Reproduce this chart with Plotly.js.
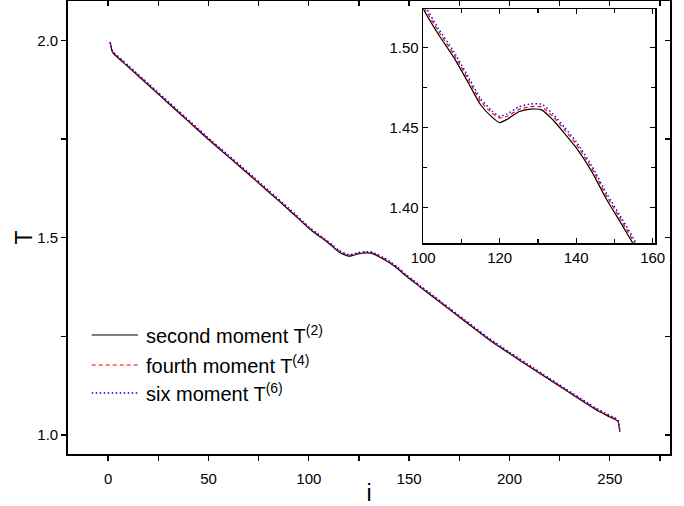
<!DOCTYPE html>
<html>
<head>
<meta charset="utf-8">
<script src="https://cdn.plot.ly/plotly-3.0.1.min.js"></script>
<style>html,body{margin:0;padding:0;background:#fff;}#chart{width:684px;height:506px;}</style>
</head>
<body>
<div id="chart"></div>
<script>
// step index i
const iVals = [1,2,3,10,20,30,40,50,60,70,80,90,100,104,108,112,115,118,120,122,125,128,131,134,137,140,144,148,152,156,160,170,180,190,200,210,220,230,240,245,250,254,255];
// second moment T(2)
const T2 = [1.995,1.972,1.965,1.933,1.887,1.841,1.795,1.749,1.705,1.661,1.616,1.571,1.524,1.5080,1.4937,1.4770,1.4642,1.4565,1.4531,1.4552,1.4598,1.4614,1.4610,1.4545,1.4462,1.4374,1.4228,1.4050,1.3893,1.3730,1.3575,1.3185,1.2795,1.2410,1.2065,1.1730,1.1400,1.1070,1.0745,1.0590,1.0460,1.0350,1.008];
// fourth moment T(4)
const T4 = [1.995,1.974,1.967,1.935,1.889,1.843,1.797,1.751,1.707,1.663,1.618,1.573,1.526,1.5100,1.4957,1.4790,1.4664,1.4590,1.4560,1.4570,1.4612,1.4630,1.4628,1.4567,1.4484,1.4396,1.4249,1.4071,1.3913,1.3750,1.3595,1.3205,1.2815,1.2430,1.2085,1.1750,1.1420,1.1090,1.0765,1.0610,1.0480,1.0370,1.008];
// six moment T(6)
const T6 = [1.996,1.976,1.969,1.937,1.891,1.845,1.799,1.753,1.709,1.665,1.620,1.575,1.528,1.5117,1.4974,1.4807,1.4680,1.4604,1.4569,1.4585,1.4628,1.4647,1.4645,1.4583,1.4500,1.4412,1.4265,1.4087,1.3930,1.3767,1.3612,1.3222,1.2832,1.2447,1.2102,1.1767,1.1437,1.1107,1.0782,1.0627,1.0497,1.0387,1.009];

const names = ['second moment T<sup>(2)</sup>','fourth moment T<sup>(4)</sup>','six moment T<sup>(6)</sup>'];
const mainTicksX = [0,50,100,150,200,250];
const mainTicksY = [1.0,1.5,2.0];
const insetTicksX = [100,120,140,160];
const insetTicksY = [1.40,1.45,1.50];

const FONT = 'Liberation Sans, Arial, sans-serif';
const styles = [
  {color:'#000000', dash:'solid', width:1.2},
  {color:'#ff0000', dash:'4px,3px', width:1.2},
  {color:'#0000ff', dash:'1.5px,2.5px', width:1.4}
];
const series = [T2, T4, T6];

const traces = [];
series.forEach((ys, k) => {
  traces.push({x:iVals, y:ys, type:'scatter', mode:'lines', name:names[k],
    line:{color:styles[k].color, dash:styles[k].dash, width:styles[k].width, shape:'spline', smoothing:0.5},
    xaxis:'x', yaxis:'y', showlegend:false});
});
series.forEach((ys, k) => {
  traces.push({x:iVals, y:ys, type:'scatter', mode:'lines', name:names[k],
    line:{color:styles[k].color, dash:styles[k].dash, width:styles[k].width, shape:'spline', smoothing:0.6},
    xaxis:'x2', yaxis:'y2', showlegend:false});
});
// helper trace for mirrored frame axes (top/right)
traces.push({x:[null], y:[null], xaxis:'x3', yaxis:'y3', showlegend:false, hoverinfo:'skip', mode:'lines'});

// legend drawn as paper-referenced samples + labels
const legRowsY = [0.2627, 0.1965, 0.1347];
const shapes = [];
const annotations = [];
names.forEach((nm, k) => {
  shapes.push({type:'line', xref:'paper', yref:'paper', x0:0.0394, x1:0.1163, y0:legRowsY[k], y1:legRowsY[k],
    line:{color:styles[k].color, dash:styles[k].dash, width:styles[k].width}});
  annotations.push({xref:'paper', yref:'paper', x:0.126, y:legRowsY[k], xanchor:'left', yanchor:'middle',
    text:nm, showarrow:false, font:{family:FONT, size:20, color:'#000'}});
});
// y-axis title
annotations.push({xref:'paper', yref:'paper', x:-0.073, y:0.478, xanchor:'center', yanchor:'middle',
  text:'T', textangle:-90, showarrow:false, font:{family:FONT, size:23, color:'#000'}});

const tk = {tickcolor:'#000', tickwidth:1.3};
const layout = {
  width:684, height:506,
  margin:{l:68, r:14, t:1, b:52},
  paper_bgcolor:'#ffffff', plot_bgcolor:'#ffffff',
  font:{family:FONT, color:'#000', size:15},
  showlegend:false,
  shapes:shapes, annotations:annotations,
  xaxis:{domain:[0,1], range:[-20,280], tickvals:mainTicksX, ticks:'outside', ticklen:5, ...tk,
    showline:true, linewidth:1.8, linecolor:'#000', mirror:true, showgrid:false, zeroline:false,
    minor:{dtick:25, tick0:0, ticks:'outside', ticklen:5, ...tk, showgrid:false},
    ticklabelstandoff:5,
    tickfont:{size:15}, title:{text:'i', font:{size:23}, standoff:4}, anchor:'y'},
  yaxis:{domain:[0,1], range:[0.952,2.1], tickvals:mainTicksY, tickformat:'.1f', ticks:'outside', ticklen:5, ...tk,
    showline:true, linewidth:1.8, linecolor:'#000', mirror:true, showgrid:false, zeroline:false,
    minor:{dtick:0.25, tick0:0, ticks:'outside', ticklen:5, ...tk, showgrid:false},
    tickfont:{size:15}, anchor:'x'},
  xaxis3:{overlaying:'x', side:'top', anchor:'y3', range:[-20,280], tickvals:mainTicksX, ticks:'inside', ticklen:5, ...tk,
    showticklabels:false, showline:false, showgrid:false, zeroline:false,
    minor:{dtick:25, tick0:0, ticks:'inside', ticklen:5, ...tk, showgrid:false}},
  yaxis3:{overlaying:'y', side:'right', anchor:'x3', range:[0.952,2.1], tickvals:mainTicksY, ticks:'inside', ticklen:5, ...tk,
    showticklabels:false, showline:false, showgrid:false, zeroline:false,
    minor:{dtick:0.25, tick0:0, ticks:'inside', ticklen:5, ...tk, showgrid:false}},
  xaxis2:{domain:[0.590,0.975], anchor:'y2', range:[100,160.6], tickvals:insetTicksX, ticks:'inside', ticklen:5, ...tk,
    showline:true, linewidth:1.6, linecolor:'#000', mirror:'allticks', showgrid:false, zeroline:false,
    minor:{dtick:10, tick0:0, ticks:'inside', ticklen:4, ...tk, showgrid:false},
    tickfont:{size:15}},
  yaxis2:{domain:[0.4658,0.9817], anchor:'x2', range:[1.378,1.5237], tickvals:insetTicksY, tickformat:'.2f', ticks:'inside', ticklen:5, ...tk,
    showline:true, linewidth:1.6, linecolor:'#000', mirror:'allticks', showgrid:false, zeroline:false,
    minor:{dtick:0.025, tick0:0, ticks:'inside', ticklen:4, ...tk, showgrid:false},
    tickfont:{size:15}}
};

Plotly.newPlot('chart', traces, layout, {displayModeBar:false, staticPlot:true});
</script>
</body>
</html>
